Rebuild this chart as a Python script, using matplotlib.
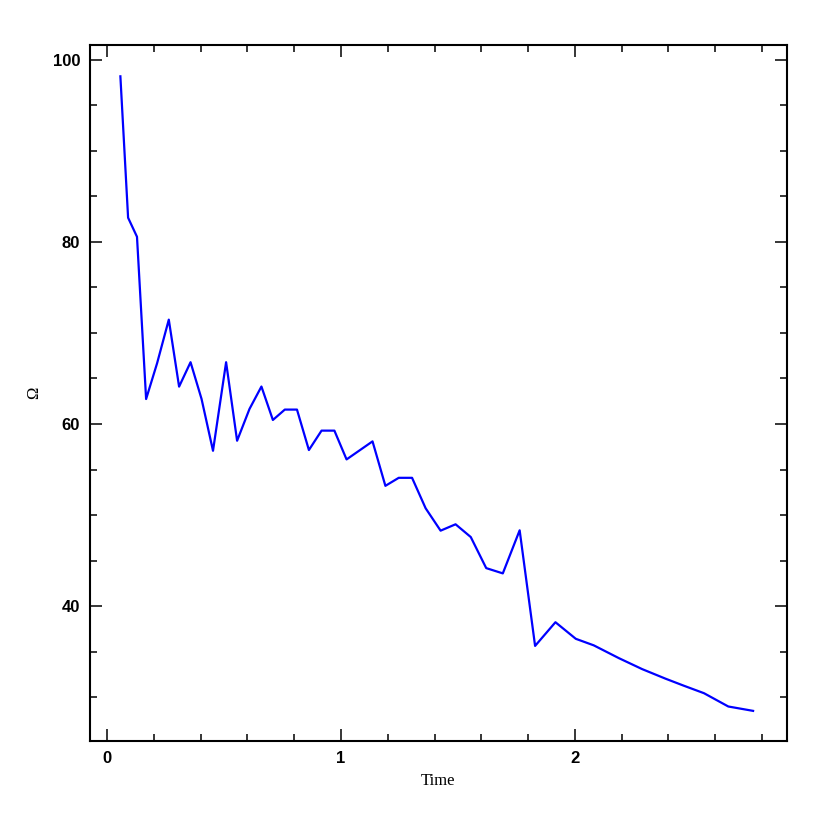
import numpy as np
import matplotlib
matplotlib.use('Agg')
import matplotlib.pyplot as plt
from matplotlib.ticker import MultipleLocator

# values
time = [0.057, 0.090, 0.128, 0.167, 0.214, 0.264, 0.308, 0.357, 0.404, 0.453,
        0.509, 0.556, 0.609, 0.660, 0.709, 0.760, 0.812, 0.863, 0.917, 0.972,
        1.024, 1.135, 1.190, 1.247, 1.304, 1.362, 1.426, 1.490, 1.555, 1.621,
        1.692, 1.764, 1.830, 1.917, 2.004, 2.081, 2.188, 2.288, 2.388, 2.466,
        2.552, 2.656, 2.762]
omega = [98.16, 82.64, 80.55, 62.74, 66.67, 71.45, 64.10, 66.78, 62.75, 57.06,
         66.78, 58.16, 61.65, 64.11, 60.44, 61.58, 61.58, 57.14, 59.27, 59.27,
         56.11, 58.09, 53.21, 54.09, 54.09, 50.75, 48.29, 48.99, 47.59, 44.18,
         43.60, 48.33, 35.64, 38.24, 36.42, 35.70, 34.30, 33.09, 32.04, 31.27,
         30.45, 28.99, 28.51]
xticks = [0, 1, 2]
yticks = [40, 60, 80, 100]

fig = plt.figure(figsize=(8.3, 8.3), dpi=100)
ax = fig.add_axes([0.1084, 0.1072, 0.8398, 0.8386])

ax.plot(time, omega, color='#0000ff', lw=1.6)

ax.set_xlim(-0.073, 2.907)
ax.set_ylim(25.2, 101.6)
ax.set_xticks(xticks)
ax.set_yticks(yticks)
ax.xaxis.set_minor_locator(MultipleLocator(0.2))
ax.yaxis.set_minor_locator(MultipleLocator(5))

ax.tick_params(which='both', direction='in', top=True, right=True, width=1.1)
ax.tick_params(which='major', length=8.5, pad=7)
ax.tick_params(which='minor', length=5)
for s in ax.spines.values():
    s.set_linewidth(1.5)

for lab in ax.get_xticklabels() + ax.get_yticklabels():
    lab.set_fontfamily('Liberation Sans')
    lab.set_fontweight('bold')
    lab.set_fontsize(12)

ax.set_xlabel('Time', family='Liberation Serif', fontsize=12, labelpad=5)
ax.set_ylabel('Ω', family='Liberation Serif', fontsize=12, labelpad=8)

fig.savefig('out.png', dpi=100)
